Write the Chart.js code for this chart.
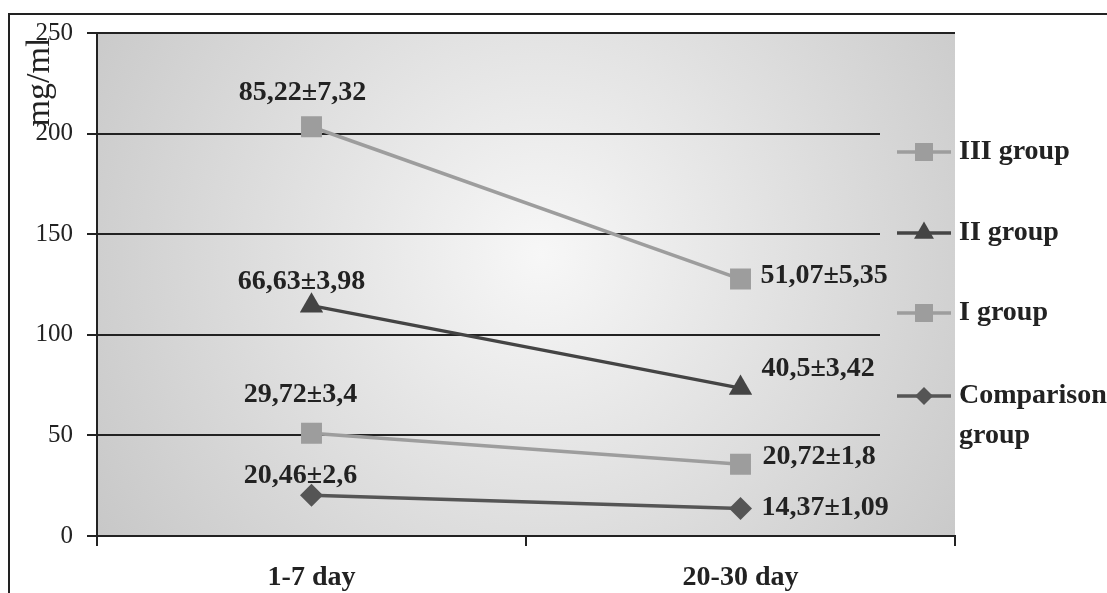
<!DOCTYPE html>
<html>
<head>
<meta charset="utf-8">
<script src="https://cdn.jsdelivr.net/npm/chart.js@4/dist/chart.umd.min.js"></script>
<style>
  html, body { margin: 0; padding: 0; background: #fff; }
  #wrap { width: 1107px; height: 593px; position: relative; }
</style>
</head>
<body>
<div id="wrap"><canvas id="levelChart"></canvas></div>
<script>
// categories and values
const days = ['1-7 day', '20-30 day'];
const groupNames = ['III group', 'II group', 'I group', 'Comparison group'];
const group3 = [203.4, 127.7];
const group2 = [114.5, 73.5];
const group1 = [51.1, 35.7];
const comparison = [20.2, 13.7];
// printed value labels next to the points
const group3Text = ['85,22±7,32', '51,07±5,35'];
const group2Text = ['66,63±3,98', '40,5±3,42'];
const group1Text = ['29,72±3,4', '20,72±1,8'];
const comparisonText = ['20,46±2,6', '14,37±1,09'];
const yMin = 0, yMax = 250, yStep = 50;

const FONT = '"Liberation Serif", "Times New Roman", serif';
const INK = '#222';

// where each value label sits relative to its point: [dx, dy, align]
const labelPlace = [
  [[-9, -34, 'center'], [20, -3, 'left']],
  [[-10, -24, 'center'], [21, -19, 'left']],
  [[-11, -38, 'center'], [22, -7, 'left']],
  [[-11, -20, 'center'], [21, -1, 'left']],
];
const valueTexts = [group3Text, group2Text, group1Text, comparisonText];

function plotFill(chart) {
  const a = chart.chartArea;
  const cx = (a.left + a.right) / 2 + 15, cy = (a.top + a.bottom) / 2 - 30;
  const g = chart.ctx.createRadialGradient(cx, cy, 0, cx, cy, 520);
  g.addColorStop(0, '#f7f7f7');
  g.addColorStop(1, '#c8c8c8');
  return g;
}

const decorations = {
  id: 'decorations',
  beforeDraw(chart) {
    const { ctx, chartArea: a } = chart;
    ctx.save();
    ctx.strokeStyle = INK;
    ctx.lineWidth = 2;
    ctx.beginPath();
    ctx.moveTo(9, 593);
    ctx.lineTo(9, 14);
    ctx.lineTo(1107, 14);
    ctx.stroke();
    ctx.fillStyle = plotFill(chart);
    ctx.fillRect(a.left, a.top, a.right - a.left, a.bottom - a.top);
    ctx.restore();
  },
  beforeDatasetsDraw(chart) {
    // legend sits over the right end of the inner grid lines
    const { ctx, chartArea: a } = chart;
    ctx.save();
    ctx.fillStyle = plotFill(chart);
    ctx.fillRect(a.right - 75, 124, 75, 322);
    ctx.restore();
  },
  afterDraw(chart) {
    const { ctx, chartArea: a } = chart;
    ctx.save();
    // y title
    ctx.save();
    ctx.translate(40, 82);
    ctx.rotate(-Math.PI / 2);
    ctx.font = '34px ' + FONT;
    ctx.fillStyle = INK;
    ctx.textAlign = 'center';
    ctx.textBaseline = 'middle';
    ctx.fillText('mg/ml', 0, 0);
    ctx.restore();

    // value labels
    ctx.font = 'bold 28px ' + FONT;
    ctx.fillStyle = INK;
    ctx.textBaseline = 'middle';
    chart.data.datasets.forEach((ds, i) => {
      const meta = chart.getDatasetMeta(i);
      meta.data.forEach((pt, j) => {
        const [dx, dy, align] = labelPlace[i][j];
        ctx.textAlign = align;
        ctx.fillText(valueTexts[i][j], pt.x + dx, pt.y + dy);
      });
    });

    // legend
    const rows = [152, 233, 313, 396];
    const lx0 = a.right - 58, lx1 = a.right - 4, mx = (lx0 + lx1) / 2;
    ctx.font = 'bold 28px ' + FONT;
    ctx.textAlign = 'left';
    chart.data.datasets.forEach((ds, i) => {
      const y = rows[i];
      ctx.strokeStyle = ds.borderColor;
      ctx.lineWidth = 3.5;
      ctx.beginPath();
      ctx.moveTo(lx0, y);
      ctx.lineTo(lx1, y);
      ctx.stroke();
      ctx.fillStyle = ds.pointBackgroundColor;
      Chart.helpers.drawPoint(ctx, {
        pointStyle: ds.pointStyle, radius: ds.legendRadius, borderWidth: 0, rotation: 0
      }, mx, y);
      ctx.fillStyle = INK;
      const words = ds.label.split(' ');
      let lines = [ds.label];
      if (ctx.measureText(ds.label).width > 145) {
        lines = [words[0], words.slice(1).join(' ')];
      }
      lines.forEach((t, k) => ctx.fillText(t, a.right + 4, y + k * 40));
    });
    ctx.restore();
  }
};

const lightGray = '#9d9d9d';
const darkGray = '#444444';
const midGray = '#555555';

function series(label, data, color, style, radius, legendRadius) {
  return {
    label, data,
    borderColor: color,
    backgroundColor: color,
    pointBackgroundColor: color,
    pointBorderWidth: 0,
    pointStyle: style,
    pointRadius: radius,
    pointHoverRadius: radius,
    legendRadius,
    borderWidth: 3.5,
    tension: 0,
    fill: false,
  };
}

new Chart(document.getElementById('levelChart'), {
  type: 'line',
  data: {
    labels: days,
    datasets: [
      series(groupNames[0], group3, lightGray, 'rect', 14.8, 12.7),
      series(groupNames[1], group2, darkGray, 'triangle', 13.5, 11.5),
      series(groupNames[2], group1, lightGray, 'rect', 14.8, 12.7),
      series(groupNames[3], comparison, midGray, 'rectRot', 11.5, 9),
    ],
  },
  options: {
    responsive: true,
    maintainAspectRatio: false,
    animation: false,
    layout: { padding: { top: 33, right: 152, left: 0, bottom: 0 } },
    plugins: { legend: { display: false }, tooltip: { enabled: false } },
    scales: {
      x: {
        offset: true,
        afterFit(scale) { scale.height = 57; },
        grid: { offset: true, drawOnChartArea: false, color: INK, lineWidth: 2, tickLength: 10 },
        border: { display: true, color: INK, width: 2 },
        ticks: { color: INK, padding: 15, font: { family: FONT, size: 28, weight: 'bold' } },
      },
      y: {
        min: yMin,
        max: yMax,
        afterFit(scale) { scale.width = 97; },
        grid: { color: INK, lineWidth: 2, tickLength: 10 },
        border: { display: true, color: INK, width: 2 },
        ticks: { stepSize: yStep, color: INK, padding: 14, font: { family: FONT, size: 25 } },
      },
    },
  },
  plugins: [decorations],
});
</script>
</body>
</html>
